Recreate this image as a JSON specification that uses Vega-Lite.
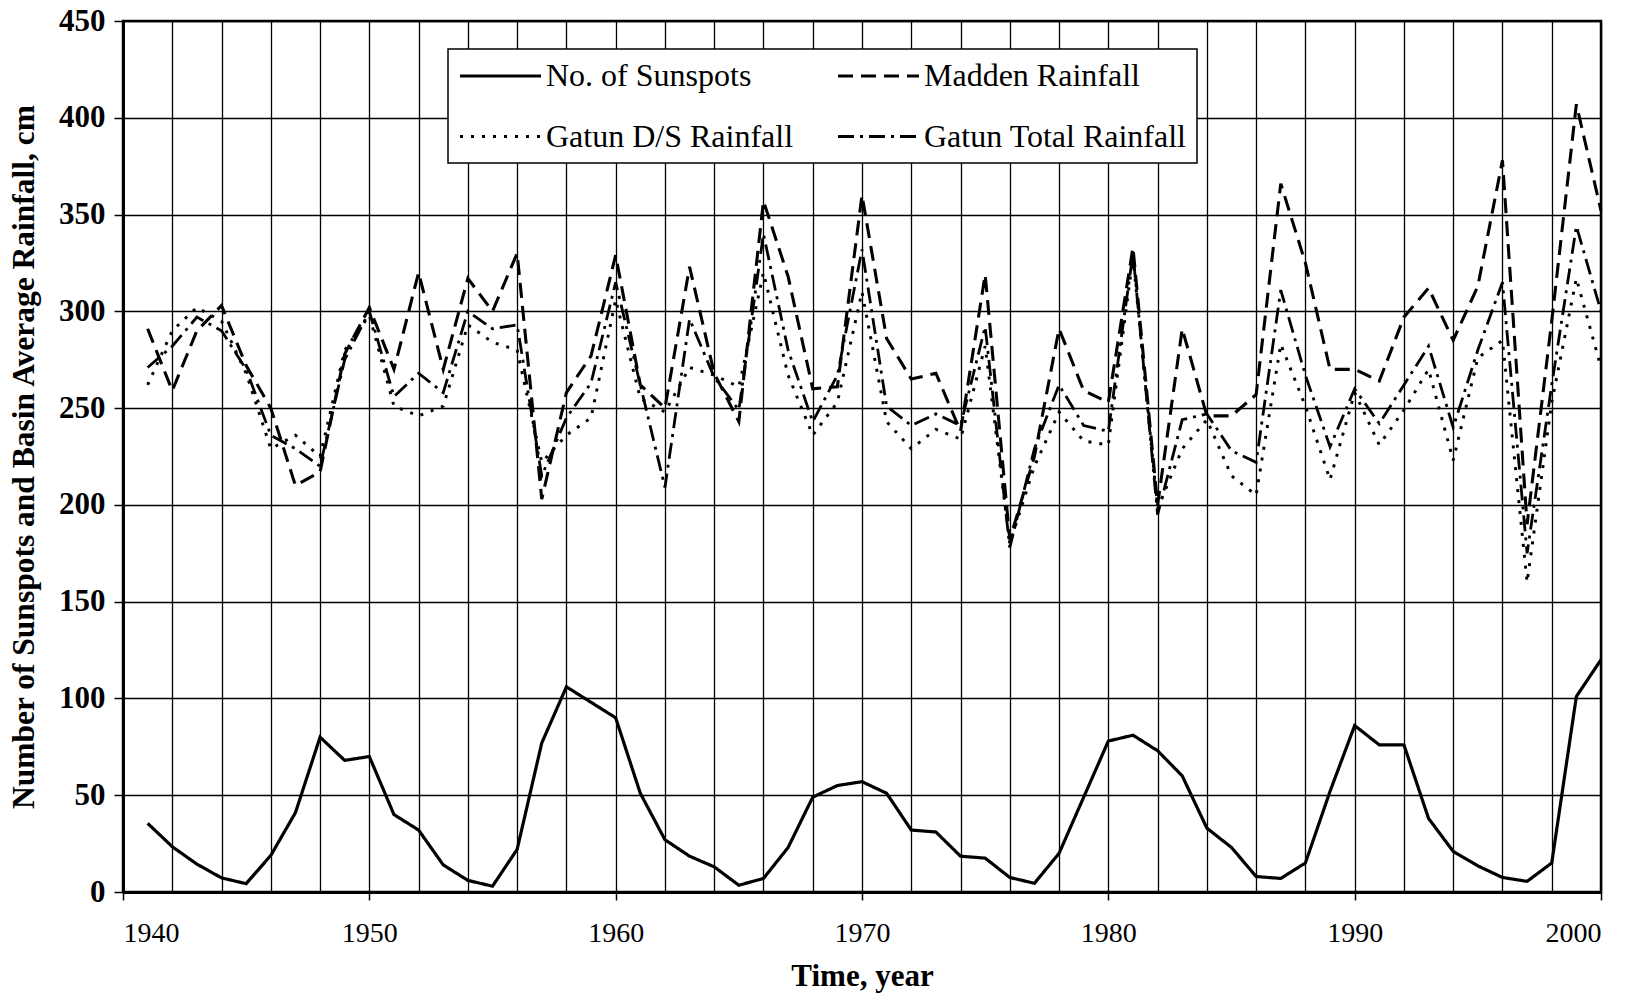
{
  "$schema": "https://vega.github.io/schema/vega-lite/v6.json",
  "width": 1478,
  "height": 871,
  "autosize": {"type": "none"},
  "padding": {"left": 123, "top": 21, "right": 41, "bottom": 104},
  "background": "white",
  "config": {"view": {"stroke": "black", "strokeWidth": 2.5}, "font": "Liberation Serif", "legend": {"strokeWidth": 1.5}},
  "data": {"values": [
    {"year": 1941, "Sunspots": 35.5, "Madden": 291, "GatunDS": 262, "GatunTotal": 271},
    {"year": 1942, "Sunspots": 23.4, "Madden": 259, "GatunDS": 290, "GatunTotal": 282},
    {"year": 1943, "Sunspots": 14.4, "Madden": 290, "GatunDS": 302, "GatunTotal": 297},
    {"year": 1944, "Sunspots": 7.3, "Madden": 303, "GatunDS": 295, "GatunTotal": 290},
    {"year": 1945, "Sunspots": 4.3, "Madden": 272, "GatunDS": 268, "GatunTotal": 270},
    {"year": 1946, "Sunspots": 18.9, "Madden": 250, "GatunDS": 229, "GatunTotal": 236},
    {"year": 1947, "Sunspots": 41, "Madden": 210, "GatunDS": 236, "GatunTotal": 229},
    {"year": 1948, "Sunspots": 80, "Madden": 217, "GatunDS": 225, "GatunTotal": 220},
    {"year": 1949, "Sunspots": 68, "Madden": 278, "GatunDS": 280, "GatunTotal": 275},
    {"year": 1950, "Sunspots": 70, "Madden": 302, "GatunDS": 298, "GatunTotal": 300},
    {"year": 1951, "Sunspots": 40, "Madden": 270, "GatunDS": 251, "GatunTotal": 256},
    {"year": 1952, "Sunspots": 32, "Madden": 320, "GatunDS": 246, "GatunTotal": 268},
    {"year": 1953, "Sunspots": 14, "Madden": 270, "GatunDS": 251, "GatunTotal": 258},
    {"year": 1954, "Sunspots": 6, "Madden": 317, "GatunDS": 293, "GatunTotal": 300},
    {"year": 1955, "Sunspots": 3, "Madden": 300, "GatunDS": 284, "GatunTotal": 291},
    {"year": 1956, "Sunspots": 22, "Madden": 330, "GatunDS": 280, "GatunTotal": 293},
    {"year": 1957, "Sunspots": 77, "Madden": 203, "GatunDS": 222, "GatunTotal": 215},
    {"year": 1958, "Sunspots": 106, "Madden": 258, "GatunDS": 236, "GatunTotal": 245},
    {"year": 1959, "Sunspots": 98, "Madden": 277, "GatunDS": 245, "GatunTotal": 263},
    {"year": 1960, "Sunspots": 90, "Madden": 329, "GatunDS": 306, "GatunTotal": 315},
    {"year": 1961, "Sunspots": 51, "Madden": 262, "GatunDS": 255, "GatunTotal": 262},
    {"year": 1962, "Sunspots": 27, "Madden": 250, "GatunDS": 248, "GatunTotal": 209},
    {"year": 1963, "Sunspots": 18.5, "Madden": 323, "GatunDS": 271, "GatunTotal": 296},
    {"year": 1964, "Sunspots": 13, "Madden": 268, "GatunDS": 267, "GatunTotal": 266},
    {"year": 1965, "Sunspots": 3.5, "Madden": 243, "GatunDS": 261, "GatunTotal": 249},
    {"year": 1966, "Sunspots": 7, "Madden": 357, "GatunDS": 320, "GatunTotal": 340},
    {"year": 1967, "Sunspots": 23, "Madden": 318, "GatunDS": 267, "GatunTotal": 280},
    {"year": 1968, "Sunspots": 49, "Madden": 260, "GatunDS": 236, "GatunTotal": 243},
    {"year": 1969, "Sunspots": 55, "Madden": 261, "GatunDS": 253, "GatunTotal": 267},
    {"year": 1970, "Sunspots": 57, "Madden": 360, "GatunDS": 310, "GatunTotal": 332},
    {"year": 1971, "Sunspots": 51, "Madden": 286, "GatunDS": 243, "GatunTotal": 251},
    {"year": 1972, "Sunspots": 32, "Madden": 265, "GatunDS": 229, "GatunTotal": 241},
    {"year": 1973, "Sunspots": 31, "Madden": 268, "GatunDS": 239, "GatunTotal": 247},
    {"year": 1974, "Sunspots": 18.5, "Madden": 238, "GatunDS": 234, "GatunTotal": 241},
    {"year": 1975, "Sunspots": 17.5, "Madden": 319, "GatunDS": 282, "GatunTotal": 292},
    {"year": 1976, "Sunspots": 7.5, "Madden": 182, "GatunDS": 180, "GatunTotal": 178},
    {"year": 1977, "Sunspots": 4.5, "Madden": 225, "GatunDS": 220, "GatunTotal": 229},
    {"year": 1978, "Sunspots": 20, "Madden": 291, "GatunDS": 248, "GatunTotal": 262},
    {"year": 1979, "Sunspots": 49, "Madden": 259, "GatunDS": 233, "GatunTotal": 241},
    {"year": 1980, "Sunspots": 78, "Madden": 253, "GatunDS": 231, "GatunTotal": 238},
    {"year": 1981, "Sunspots": 81, "Madden": 333, "GatunDS": 328, "GatunTotal": 330},
    {"year": 1982, "Sunspots": 73, "Madden": 200, "GatunDS": 198, "GatunTotal": 195},
    {"year": 1983, "Sunspots": 60, "Madden": 291, "GatunDS": 229, "GatunTotal": 244},
    {"year": 1984, "Sunspots": 33, "Madden": 246, "GatunDS": 244, "GatunTotal": 247},
    {"year": 1985, "Sunspots": 23, "Madden": 246, "GatunDS": 215, "GatunTotal": 228},
    {"year": 1986, "Sunspots": 8, "Madden": 257, "GatunDS": 205, "GatunTotal": 222},
    {"year": 1987, "Sunspots": 7, "Madden": 366, "GatunDS": 283, "GatunTotal": 311},
    {"year": 1988, "Sunspots": 15, "Madden": 325, "GatunDS": 251, "GatunTotal": 267},
    {"year": 1989, "Sunspots": 52, "Madden": 270, "GatunDS": 213, "GatunTotal": 230},
    {"year": 1990, "Sunspots": 86, "Madden": 270, "GatunDS": 258, "GatunTotal": 260},
    {"year": 1991, "Sunspots": 76, "Madden": 264, "GatunDS": 231, "GatunTotal": 242},
    {"year": 1992, "Sunspots": 76, "Madden": 297, "GatunDS": 249, "GatunTotal": 262},
    {"year": 1993, "Sunspots": 38, "Madden": 312, "GatunDS": 270, "GatunTotal": 282},
    {"year": 1994, "Sunspots": 21, "Madden": 285, "GatunDS": 223, "GatunTotal": 240},
    {"year": 1995, "Sunspots": 13.5, "Madden": 313, "GatunDS": 276, "GatunTotal": 280},
    {"year": 1996, "Sunspots": 7.5, "Madden": 378, "GatunDS": 285, "GatunTotal": 315},
    {"year": 1997, "Sunspots": 5.5, "Madden": 190, "GatunDS": 160, "GatunTotal": 175},
    {"year": 1998, "Sunspots": 15, "Madden": 295, "GatunDS": 253, "GatunTotal": 262},
    {"year": 1999, "Sunspots": 101, "Madden": 407, "GatunDS": 317, "GatunTotal": 344},
    {"year": 2000, "Sunspots": 120, "Madden": 352, "GatunDS": 271, "GatunTotal": 300}
  ]},
  "transform": [{"fold": ["Sunspots", "Madden", "GatunDS", "GatunTotal"], "as": ["series", "value"]}],
  "mark": {"type": "line", "color": "black", "strokeCap": "butt", "strokeJoin": "miter"},
  "encoding": {
    "x": {
      "field": "year", "type": "quantitative",
      "scale": {"domain": [1940, 2000], "nice": false, "zero": false},
      "axis": {
        "values": [1940,1942,1944,1946,1948,1950,1952,1954,1956,1958,1960,1962,1964,1966,1968,1970,1972,1974,1976,1978,1980,1982,1984,1986,1988,1990,1992,1994,1996,1998,2000],
        "format": "d",
        "labelExpr": "datum.value % 10 === 0 ? datum.label : ''",
        "labelOverlap": false,
        "labelFont": "Liberation Serif", "labelFontSize": 28, "labelColor": "black", "labelPadding": 19,
        "tickColor": "black", "tickSize": 8, "tickWidth": 1.5,
        "tickOpacity": {"condition": {"test": "datum.value % 10 === 0", "value": 1}, "value": 0},
        "grid": true, "gridColor": "black", "gridOpacity": 1, "gridWidth": 1.3,
        "domainColor": "black", "domainWidth": 3,
        "title": "Time, year", "titleFont": "Liberation Serif", "titleFontSize": 31, "titleFontWeight": "bold", "titleColor": "black", "titlePadding": 14
      }
    },
    "y": {
      "field": "value", "type": "quantitative",
      "scale": {"domain": [0, 450], "nice": false},
      "axis": {
        "values": [0,50,100,150,200,250,300,350,400,450],
        "labelFont": "Liberation Serif", "labelFontSize": 31, "labelFontWeight": "bold", "labelColor": "black", "labelPadding": 9,
        "tickColor": "black", "tickSize": 9, "tickWidth": 1.5,
        "grid": true, "gridColor": "black", "gridOpacity": 1, "gridWidth": 1.3,
        "domainColor": "black", "domainWidth": 3,
        "title": "Number of Sunspots and Basin Average Rainfall, cm", "titleFont": "Liberation Serif", "titleFontSize": 31.5, "titleFontWeight": "bold", "titleColor": "black", "titlePadding": 18
      }
    },
    "strokeDash": {
      "field": "series", "type": "nominal",
      "scale": {"domain": ["Sunspots", "Madden", "GatunDS", "GatunTotal"], "range": [[1, 0], [15, 8], [3, 8], [16, 6, 3, 6]]},
      "legend": {
        "title": null, "orient": "none", "legendX": 325, "legendY": 28,
        "direction": "horizontal", "columns": 2,
        "labelExpr": "datum.label === 'Sunspots' ? 'No. of Sunspots' : datum.label === 'Madden' ? 'Madden Rainfall' : datum.label === 'GatunDS' ? 'Gatun D/S Rainfall' : 'Gatun Total Rainfall'",
        "symbolType": "M-1,0H4.4", "symbolSize": 900, "symbolStrokeWidth": 2.6, "symbolStrokeColor": "black", "symbolFillColor": "transparent",
        "labelFont": "Liberation Serif", "labelFontSize": 32, "labelColor": "black", "labelOffset": 54, "labelLimit": 400,
        "rowPadding": 28, "columnPadding": 37,
        "padding": 10, "fillColor": "white", "strokeColor": "black"
      }
    },
    "strokeWidth": {
      "field": "series", "type": "nominal",
      "scale": {"domain": ["Sunspots", "Madden", "GatunDS", "GatunTotal"], "range": [3.2, 2.8, 2.9, 2.8]},
      "legend": null
    }
  }
}
